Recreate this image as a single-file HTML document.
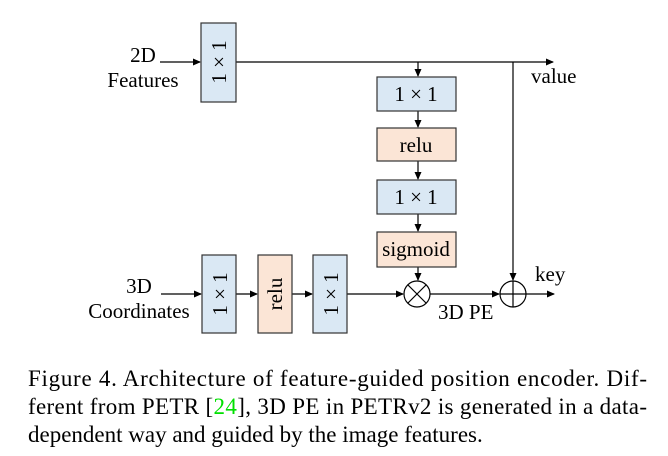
<!DOCTYPE html>
<html><head><style>
html,body{margin:0;padding:0;background:#fff;}
svg{display:block;}
text{font-family:"Liberation Serif",serif;fill:#000;}
</style></head><body>
<svg width="668" height="456" viewBox="0 0 668 456" xmlns="http://www.w3.org/2000/svg">
<defs>
<marker id="a" markerWidth="8" markerHeight="8" refX="7" refY="4" orient="auto" markerUnits="userSpaceOnUse">
<path d="M0,0.5 L8,4 L0,7.5 z" fill="#000"/>
</marker>
</defs>
<g stroke="#000" stroke-width="1.2" fill="none">
<line x1="160" y1="62" x2="200" y2="62" marker-end="url(#a)"/>
<line x1="236" y1="62" x2="553" y2="62" marker-end="url(#a)"/>
<line x1="418" y1="62" x2="418" y2="76" marker-end="url(#a)"/>
<line x1="418" y1="111" x2="418" y2="127" marker-end="url(#a)"/>
<line x1="418" y1="161" x2="418" y2="179" marker-end="url(#a)"/>
<line x1="418" y1="214" x2="418" y2="231" marker-end="url(#a)"/>
<line x1="418" y1="267" x2="418" y2="280" marker-end="url(#a)"/>
<line x1="513" y1="62" x2="513" y2="280" marker-end="url(#a)"/>
<line x1="161" y1="294" x2="201" y2="294" marker-end="url(#a)"/>
<line x1="236" y1="294" x2="257" y2="294" marker-end="url(#a)"/>
<line x1="292" y1="294" x2="312" y2="294" marker-end="url(#a)"/>
<line x1="347" y1="294" x2="403" y2="294" marker-end="url(#a)"/>
<line x1="430" y1="294" x2="499" y2="294" marker-end="url(#a)"/>
<line x1="526" y1="294" x2="554" y2="294" marker-end="url(#a)"/>
</g>
<g stroke="#333" stroke-width="1.2">
<rect x="201" y="23" width="35" height="79" fill="#dae8f4"/>
<rect x="377" y="77" width="79" height="34" fill="#dae8f4"/>
<rect x="377" y="128" width="79" height="33" fill="#fbe5d6"/>
<rect x="377" y="180" width="79" height="34" fill="#dae8f4"/>
<rect x="377" y="232" width="79" height="35" fill="#fbe5d6"/>
<rect x="202" y="255" width="34" height="78" fill="#dae8f4"/>
<rect x="258" y="255" width="34" height="78" fill="#fbe5d6"/>
<rect x="313" y="255" width="34" height="78" fill="#dae8f4"/>
</g>
<g stroke="#000" stroke-width="1.2" fill="#fff">
<circle cx="417" cy="294" r="13"/>
<circle cx="513" cy="294" r="13"/>
</g>
<g stroke="#000" stroke-width="1.2">
<line x1="408" y1="285" x2="426" y2="303"/>
<line x1="426" y1="285" x2="408" y2="303"/>
<line x1="500" y1="294" x2="526" y2="294"/>
<line x1="513" y1="281" x2="513" y2="307"/>
</g>
<g font-size="21">
<text x="416" y="101" text-anchor="middle">1 × 1</text>
<text x="416" y="152" text-anchor="middle">relu</text>
<text x="416" y="204" text-anchor="middle">1 × 1</text>
<text x="416" y="256" text-anchor="middle">sigmoid</text>
<text transform="translate(226,62) rotate(-90)" text-anchor="middle">1 × 1</text>
<text transform="translate(227,294) rotate(-90)" text-anchor="middle">1 × 1</text>
<text transform="translate(282,294) rotate(-90)" text-anchor="middle">relu</text>
<text transform="translate(338,294) rotate(-90)" text-anchor="middle">1 × 1</text>
<text x="143" y="62" text-anchor="middle">2D</text>
<text x="143" y="87" text-anchor="middle">Features</text>
<text x="139" y="293" text-anchor="middle">3D</text>
<text x="139" y="318" text-anchor="middle">Coordinates</text>
<text x="531" y="83">value</text>
<text x="535" y="281">key</text>
<text x="438" y="319">3D PE</text>
</g>
<g font-size="23">
<text x="28" y="386" textLength="619" lengthAdjust="spacing">Figure 4.  Architecture of feature-guided position encoder.  Dif-</text>
<text x="28" y="414" textLength="619" lengthAdjust="spacing">ferent from PETR [<tspan fill="#00e000">24</tspan>], 3D PE in PETRv2 is generated in a data-</text>
<text x="28" y="442">dependent way and guided by the image features.</text>
</g>
</svg>
</body></html>
